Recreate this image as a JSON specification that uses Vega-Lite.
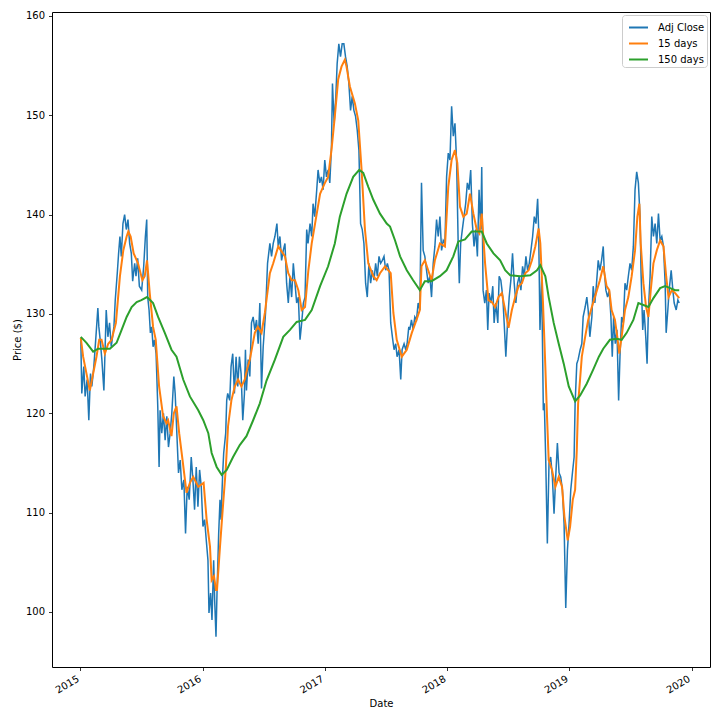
{
  "$schema": "https://vega.github.io/schema/vega-lite/v6.json",
  "width": 658,
  "height": 655,
  "autosize": {"type": "none"},
  "padding": {"left": 52, "top": 12, "right": 10, "bottom": 53},
  "background": "white",
  "config": {
    "font": "DejaVu Sans",
    "view": {"stroke": "#000000", "strokeWidth": 1},
    "axis": {
      "grid": false, "domain": false,
      "tickColor": "#000000", "tickSize": 3.5, "tickWidth": 0.8,
      "labelColor": "#000000", "labelFontSize": 10, "labelFont": "DejaVu Sans",
      "titleFont": "DejaVu Sans", "titleFontSize": 10, "titleFontWeight": "normal", "titleColor": "#000000"
    }
  },
  "datasets": {
    "adj": [
      {"date":"2015-01-02","price":127.6},{"date":"2015-01-05","price":122.0},{"date":"2015-01-11","price":124.7},{"date":"2015-01-15","price":121.7},
      {"date":"2015-01-21","price":123.4},{"date":"2015-01-26","price":119.3},{"date":"2015-01-31","price":124.0},{"date":"2015-02-04","price":122.7},
      {"date":"2015-02-10","price":124.7},{"date":"2015-02-17","price":128.1},{"date":"2015-02-22","price":130.6},{"date":"2015-02-25","price":128.7},
      {"date":"2015-03-01","price":127.4},{"date":"2015-03-06","price":125.4},{"date":"2015-03-12","price":122.3},{"date":"2015-03-19","price":130.4},
      {"date":"2015-03-24","price":127.7},{"date":"2015-03-29","price":129.1},{"date":"2015-04-03","price":126.7},{"date":"2015-04-11","price":128.7},
      {"date":"2015-04-15","price":131.4},{"date":"2015-04-21","price":134.1},{"date":"2015-04-25","price":136.1},{"date":"2015-04-29","price":137.8},
      {"date":"2015-05-03","price":135.8},{"date":"2015-05-08","price":139.1},{"date":"2015-05-13","price":140.0},{"date":"2015-05-18","price":138.5},
      {"date":"2015-05-23","price":139.5},{"date":"2015-05-28","price":137.1},{"date":"2015-06-02","price":136.1},{"date":"2015-06-06","price":133.3},
      {"date":"2015-06-12","price":135.1},{"date":"2015-06-16","price":133.8},{"date":"2015-06-21","price":135.6},{"date":"2015-06-26","price":132.8},
      {"date":"2015-07-03","price":132.4},{"date":"2015-07-09","price":134.8},{"date":"2015-07-14","price":137.8},{"date":"2015-07-18","price":139.5},
      {"date":"2015-07-21","price":131.7},{"date":"2015-07-25","price":130.4},{"date":"2015-07-29","price":128.1},{"date":"2015-08-02","price":128.7},
      {"date":"2015-08-06","price":126.7},{"date":"2015-08-10","price":127.4},{"date":"2015-08-15","price":126.0},{"date":"2015-08-20","price":120.7},
      {"date":"2015-08-24","price":114.6},{"date":"2015-08-27","price":120.3},{"date":"2015-09-01","price":118.0},{"date":"2015-09-06","price":120.0},
      {"date":"2015-09-11","price":117.3},{"date":"2015-09-16","price":119.7},{"date":"2015-09-21","price":116.6},{"date":"2015-09-26","price":118.0},
      {"date":"2015-10-01","price":120.0},{"date":"2015-10-07","price":123.7},{"date":"2015-10-11","price":122.0},{"date":"2015-10-16","price":118.0},
      {"date":"2015-10-21","price":114.0},{"date":"2015-10-26","price":115.3},{"date":"2015-10-31","price":112.3},{"date":"2015-11-06","price":113.3},
      {"date":"2015-11-11","price":107.9},{"date":"2015-11-16","price":112.6},{"date":"2015-11-22","price":111.3},{"date":"2015-11-28","price":115.6},
      {"date":"2015-12-03","price":113.3},{"date":"2015-12-08","price":110.3},{"date":"2015-12-13","price":114.6},{"date":"2015-12-18","price":110.6},
      {"date":"2015-12-23","price":114.3},{"date":"2015-12-28","price":112.6},{"date":"2016-01-02","price":108.6},{"date":"2016-01-07","price":109.3},
      {"date":"2016-01-12","price":107.2},{"date":"2016-01-17","price":105.2},{"date":"2016-01-20","price":99.9},{"date":"2016-01-25","price":101.9},
      {"date":"2016-01-29","price":99.2},{"date":"2016-02-03","price":105.2},{"date":"2016-02-06","price":101.2},{"date":"2016-02-10","price":97.5},
      {"date":"2016-02-13","price":101.9},{"date":"2016-02-18","price":107.9},{"date":"2016-02-22","price":111.3},{"date":"2016-02-25","price":109.3},
      {"date":"2016-03-01","price":114.0},{"date":"2016-03-04","price":116.0},{"date":"2016-03-10","price":118.0},{"date":"2016-03-13","price":121.3},
      {"date":"2016-03-16","price":122.0},{"date":"2016-03-22","price":121.3},{"date":"2016-03-26","price":124.7},{"date":"2016-03-31","price":126.0},
      {"date":"2016-04-05","price":122.0},{"date":"2016-04-10","price":125.7},{"date":"2016-04-15","price":122.7},{"date":"2016-04-20","price":125.7},
      {"date":"2016-04-25","price":124.0},{"date":"2016-04-30","price":119.3},{"date":"2016-05-05","price":122.0},{"date":"2016-05-08","price":126.4},
      {"date":"2016-05-11","price":122.3},{"date":"2016-05-16","price":125.4},{"date":"2016-05-21","price":123.7},{"date":"2016-05-26","price":129.1},
      {"date":"2016-05-31","price":129.7},{"date":"2016-06-05","price":128.4},{"date":"2016-06-10","price":129.4},{"date":"2016-06-15","price":127.0},
      {"date":"2016-06-20","price":131.1},{"date":"2016-06-25","price":122.5},{"date":"2016-06-30","price":126.7},{"date":"2016-07-07","price":130.1},
      {"date":"2016-07-13","price":135.1},{"date":"2016-07-20","price":137.1},{"date":"2016-07-25","price":135.8},{"date":"2016-07-30","price":137.1},
      {"date":"2016-08-04","price":137.8},{"date":"2016-08-10","price":139.1},{"date":"2016-08-14","price":136.8},{"date":"2016-08-19","price":137.8},
      {"date":"2016-08-24","price":135.4},{"date":"2016-08-29","price":136.4},{"date":"2016-09-03","price":137.1},{"date":"2016-09-08","price":133.1},
      {"date":"2016-09-13","price":131.1},{"date":"2016-09-18","price":133.8},{"date":"2016-09-23","price":131.7},{"date":"2016-09-28","price":135.1},
      {"date":"2016-10-03","price":133.1},{"date":"2016-10-08","price":131.1},{"date":"2016-10-13","price":131.7},{"date":"2016-10-18","price":127.4},
      {"date":"2016-10-23","price":129.1},{"date":"2016-10-28","price":131.1},{"date":"2016-11-02","price":131.7},{"date":"2016-11-07","price":138.5},
      {"date":"2016-11-11","price":137.1},{"date":"2016-11-17","price":139.1},{"date":"2016-11-22","price":137.8},{"date":"2016-11-26","price":141.1},
      {"date":"2016-12-01","price":139.8},{"date":"2016-12-07","price":142.5},{"date":"2016-12-11","price":144.5},{"date":"2016-12-16","price":143.2},
      {"date":"2016-12-21","price":143.8},{"date":"2016-12-26","price":142.5},{"date":"2016-12-31","price":145.5},{"date":"2017-01-05","price":143.8},
      {"date":"2017-01-10","price":144.5},{"date":"2017-01-15","price":143.2},{"date":"2017-01-20","price":146.8},{"date":"2017-01-23","price":153.2},
      {"date":"2017-01-28","price":149.2},{"date":"2017-02-02","price":151.9},{"date":"2017-02-06","price":155.2},{"date":"2017-02-11","price":157.2},
      {"date":"2017-02-16","price":155.9},{"date":"2017-02-21","price":157.2},{"date":"2017-02-26","price":157.2},{"date":"2017-03-03","price":155.9},
      {"date":"2017-03-08","price":154.9},{"date":"2017-03-13","price":153.2},{"date":"2017-03-18","price":150.5},{"date":"2017-03-23","price":151.9},
      {"date":"2017-03-28","price":150.5},{"date":"2017-04-02","price":149.9},{"date":"2017-04-07","price":148.5},{"date":"2017-04-12","price":146.5},
      {"date":"2017-04-17","price":139.1},{"date":"2017-04-22","price":138.5},{"date":"2017-04-27","price":137.1},{"date":"2017-05-02","price":133.1},
      {"date":"2017-05-07","price":131.7},{"date":"2017-05-12","price":135.1},{"date":"2017-05-17","price":133.1},{"date":"2017-05-22","price":134.4},
      {"date":"2017-05-27","price":133.4},{"date":"2017-06-01","price":135.1},{"date":"2017-06-06","price":133.8},{"date":"2017-06-11","price":135.8},
      {"date":"2017-06-16","price":135.1},{"date":"2017-06-21","price":135.4},{"date":"2017-06-26","price":135.8},{"date":"2017-07-01","price":134.4},
      {"date":"2017-07-06","price":135.1},{"date":"2017-07-11","price":134.4},{"date":"2017-07-16","price":129.1},{"date":"2017-07-21","price":127.7},
      {"date":"2017-07-26","price":126.4},{"date":"2017-07-31","price":127.0},{"date":"2017-08-04","price":125.7},{"date":"2017-08-10","price":126.4},
      {"date":"2017-08-15","price":123.4},{"date":"2017-08-19","price":126.4},{"date":"2017-08-25","price":127.0},{"date":"2017-08-30","price":126.4},
      {"date":"2017-09-03","price":127.0},{"date":"2017-09-08","price":128.7},{"date":"2017-09-11","price":128.4},{"date":"2017-09-16","price":129.4},
      {"date":"2017-09-21","price":128.4},{"date":"2017-09-26","price":129.7},{"date":"2017-10-01","price":129.4},{"date":"2017-10-06","price":131.1},
      {"date":"2017-10-11","price":130.4},{"date":"2017-10-16","price":143.2},{"date":"2017-10-21","price":136.4},{"date":"2017-10-26","price":135.8},
      {"date":"2017-10-31","price":134.4},{"date":"2017-11-05","price":133.1},{"date":"2017-11-10","price":133.8},{"date":"2017-11-15","price":131.7},
      {"date":"2017-11-20","price":135.1},{"date":"2017-11-25","price":136.8},{"date":"2017-11-30","price":139.5},{"date":"2017-12-05","price":137.8},
      {"date":"2017-12-10","price":139.8},{"date":"2017-12-15","price":136.4},{"date":"2017-12-20","price":137.4},{"date":"2017-12-25","price":137.1},
      {"date":"2017-12-30","price":143.8},{"date":"2018-01-04","price":146.2},{"date":"2018-01-09","price":145.5},{"date":"2018-01-14","price":150.9},
      {"date":"2018-01-19","price":147.9},{"date":"2018-01-24","price":149.2},{"date":"2018-01-29","price":145.2},{"date":"2018-02-03","price":136.4},
      {"date":"2018-02-06","price":133.1},{"date":"2018-02-10","price":137.1},{"date":"2018-02-15","price":138.5},{"date":"2018-02-20","price":139.8},
      {"date":"2018-02-25","price":141.1},{"date":"2018-03-02","price":143.2},{"date":"2018-03-07","price":142.5},{"date":"2018-03-12","price":144.5},
      {"date":"2018-03-17","price":139.1},{"date":"2018-03-22","price":136.8},{"date":"2018-03-27","price":138.5},{"date":"2018-04-01","price":135.8},
      {"date":"2018-04-06","price":142.5},{"date":"2018-04-11","price":138.5},{"date":"2018-04-14","price":144.8},{"date":"2018-04-18","price":132.4},
      {"date":"2018-04-23","price":131.1},{"date":"2018-04-28","price":132.4},{"date":"2018-05-02","price":128.4},{"date":"2018-05-06","price":132.1},
      {"date":"2018-05-12","price":131.1},{"date":"2018-05-17","price":132.8},{"date":"2018-05-21","price":129.1},{"date":"2018-05-26","price":131.1},
      {"date":"2018-06-01","price":129.1},{"date":"2018-06-05","price":133.8},{"date":"2018-06-10","price":133.4},{"date":"2018-06-16","price":131.7},
      {"date":"2018-06-20","price":129.1},{"date":"2018-06-25","price":125.7},{"date":"2018-06-30","price":129.1},{"date":"2018-07-05","price":131.7},
      {"date":"2018-07-10","price":133.4},{"date":"2018-07-15","price":136.1},{"date":"2018-07-20","price":133.1},{"date":"2018-07-25","price":131.1},
      {"date":"2018-07-30","price":133.1},{"date":"2018-08-04","price":133.8},{"date":"2018-08-09","price":132.4},{"date":"2018-08-14","price":134.8},
      {"date":"2018-08-19","price":133.8},{"date":"2018-08-24","price":135.8},{"date":"2018-08-29","price":134.4},{"date":"2018-09-03","price":135.1},
      {"date":"2018-09-08","price":136.4},{"date":"2018-09-13","price":137.8},{"date":"2018-09-18","price":139.8},{"date":"2018-09-23","price":139.1},
      {"date":"2018-09-28","price":141.6},{"date":"2018-10-01","price":138.5},{"date":"2018-10-05","price":128.4},{"date":"2018-10-10","price":133.8},
      {"date":"2018-10-15","price":120.3},{"date":"2018-10-18","price":121.0},{"date":"2018-10-22","price":115.6},{"date":"2018-10-27","price":106.9},
      {"date":"2018-11-01","price":115.0},{"date":"2018-11-06","price":115.6},{"date":"2018-11-11","price":113.6},{"date":"2018-11-16","price":109.9},
      {"date":"2018-11-21","price":113.6},{"date":"2018-11-26","price":117.0},{"date":"2018-12-01","price":114.0},{"date":"2018-12-06","price":113.6},
      {"date":"2018-12-11","price":112.3},{"date":"2018-12-16","price":108.9},{"date":"2018-12-21","price":100.4},{"date":"2018-12-26","price":106.2},
      {"date":"2018-12-31","price":108.9},{"date":"2019-01-05","price":112.3},{"date":"2019-01-10","price":114.0},{"date":"2019-01-15","price":115.6},
      {"date":"2019-01-18","price":121.0},{"date":"2019-01-23","price":125.0},{"date":"2019-01-27","price":125.4},{"date":"2019-02-02","price":126.4},
      {"date":"2019-02-07","price":127.0},{"date":"2019-02-11","price":129.7},{"date":"2019-02-17","price":130.7},{"date":"2019-02-22","price":131.7},
      {"date":"2019-02-26","price":130.4},{"date":"2019-03-03","price":127.7},{"date":"2019-03-09","price":129.7},{"date":"2019-03-13","price":132.8},
      {"date":"2019-03-18","price":131.1},{"date":"2019-03-23","price":133.1},{"date":"2019-03-28","price":135.4},{"date":"2019-04-02","price":134.4},
      {"date":"2019-04-07","price":135.4},{"date":"2019-04-12","price":136.8},{"date":"2019-04-15","price":134.4},{"date":"2019-04-20","price":132.4},
      {"date":"2019-04-25","price":131.7},{"date":"2019-04-30","price":132.4},{"date":"2019-05-05","price":129.7},{"date":"2019-05-09","price":125.7},
      {"date":"2019-05-13","price":129.7},{"date":"2019-05-18","price":127.0},{"date":"2019-05-23","price":128.4},{"date":"2019-05-28","price":121.3},
      {"date":"2019-06-01","price":125.7},{"date":"2019-06-06","price":129.7},{"date":"2019-06-11","price":129.1},{"date":"2019-06-16","price":133.1},
      {"date":"2019-06-21","price":132.4},{"date":"2019-06-26","price":133.8},{"date":"2019-07-01","price":135.1},{"date":"2019-07-06","price":134.4},
      {"date":"2019-07-11","price":136.8},{"date":"2019-07-16","price":142.5},{"date":"2019-07-21","price":144.3},{"date":"2019-07-26","price":143.2},
      {"date":"2019-07-31","price":139.8},{"date":"2019-08-03","price":134.1},{"date":"2019-08-08","price":128.4},{"date":"2019-08-12","price":130.4},
      {"date":"2019-08-17","price":127.7},{"date":"2019-08-21","price":125.0},{"date":"2019-08-25","price":130.4},{"date":"2019-08-30","price":133.8},
      {"date":"2019-09-04","price":139.8},{"date":"2019-09-09","price":137.8},{"date":"2019-09-14","price":139.1},{"date":"2019-09-19","price":137.1},
      {"date":"2019-09-24","price":140.1},{"date":"2019-09-29","price":137.4},{"date":"2019-10-04","price":137.8},{"date":"2019-10-09","price":136.8},
      {"date":"2019-10-14","price":133.1},{"date":"2019-10-17","price":128.1},{"date":"2019-10-22","price":130.4},{"date":"2019-10-26","price":132.4},
      {"date":"2019-11-01","price":134.4},{"date":"2019-11-06","price":132.4},{"date":"2019-11-10","price":131.1},{"date":"2019-11-16","price":130.4},
      {"date":"2019-11-21","price":131.4},{"date":"2019-11-25","price":131.1}
    ],
    "ma15": [
      {"date":"2015-01-02","price":127.6},{"date":"2015-01-09","price":125.7},{"date":"2015-01-29","price":122.3},{"date":"2015-02-08","price":124},
      {"date":"2015-02-18","price":125.7},{"date":"2015-02-26","price":127.4},{"date":"2015-03-05","price":127.4},{"date":"2015-03-15","price":126},
      {"date":"2015-03-25","price":127},{"date":"2015-04-04","price":127.4},{"date":"2015-04-17","price":129.1},{"date":"2015-04-29","price":133.8},
      {"date":"2015-05-09","price":136.4},{"date":"2015-05-19","price":137.8},{"date":"2015-05-24","price":138.3},{"date":"2015-05-31","price":137.8},
      {"date":"2015-06-09","price":136.1},{"date":"2015-06-22","price":135.1},{"date":"2015-07-05","price":133.4},{"date":"2015-07-12","price":133.8},
      {"date":"2015-07-19","price":135.4},{"date":"2015-07-27","price":132.1},{"date":"2015-08-06","price":128.7},{"date":"2015-08-14","price":127.4},
      {"date":"2015-08-24","price":122.7},{"date":"2015-09-05","price":119.7},{"date":"2015-09-15","price":119},{"date":"2015-09-20","price":119.3},
      {"date":"2015-09-30","price":117.7},{"date":"2015-10-07","price":120},{"date":"2015-10-15","price":120.7},{"date":"2015-10-23","price":118},
      {"date":"2015-11-02","price":115.3},{"date":"2015-11-14","price":112},{"date":"2015-11-24","price":113},{"date":"2015-12-04","price":113.6},
      {"date":"2015-12-19","price":112.6},{"date":"2016-01-04","price":113},{"date":"2016-01-13","price":109.3},{"date":"2016-01-23","price":106.6},
      {"date":"2016-01-28","price":103.2},{"date":"2016-02-04","price":103.6},{"date":"2016-02-10","price":102.2},{"date":"2016-02-13","price":102.2},
      {"date":"2016-02-22","price":106.6},{"date":"2016-03-01","price":110.3},{"date":"2016-03-10","price":114.3},{"date":"2016-03-17","price":118.7},
      {"date":"2016-03-27","price":121.3},{"date":"2016-04-06","price":122.7},{"date":"2016-04-16","price":123.4},{"date":"2016-04-26","price":122.7},
      {"date":"2016-05-06","price":123.4},{"date":"2016-05-15","price":124.7},{"date":"2016-05-21","price":125.4},{"date":"2016-06-05","price":128.1},
      {"date":"2016-06-14","price":128.7},{"date":"2016-06-25","price":128.1},{"date":"2016-07-05","price":130.1},{"date":"2016-07-20","price":134.1},
      {"date":"2016-07-30","price":135.1},{"date":"2016-08-14","price":136.8},{"date":"2016-08-24","price":136.3},{"date":"2016-09-03","price":135.8},
      {"date":"2016-09-13","price":134.1},{"date":"2016-09-23","price":133.4},{"date":"2016-10-03","price":133.4},{"date":"2016-10-13","price":132.4},
      {"date":"2016-10-23","price":130.4},{"date":"2016-11-02","price":130.7},{"date":"2016-11-12","price":134.4},{"date":"2016-11-22","price":137.1},
      {"date":"2016-12-02","price":139.1},{"date":"2016-12-17","price":142.1},{"date":"2016-12-30","price":143.1},{"date":"2017-01-10","price":143.8},
      {"date":"2017-01-20","price":146.5},{"date":"2017-01-30","price":149.9},{"date":"2017-02-09","price":153.6},{"date":"2017-02-19","price":154.9},
      {"date":"2017-03-01","price":155.6},{"date":"2017-03-06","price":154.9},{"date":"2017-03-16","price":152.9},{"date":"2017-03-31","price":151.2},
      {"date":"2017-04-10","price":149.5},{"date":"2017-04-20","price":144.5},{"date":"2017-04-30","price":138.5},{"date":"2017-05-10","price":135.1},
      {"date":"2017-05-25","price":133.8},{"date":"2017-06-04","price":133.4},{"date":"2017-06-14","price":134.1},{"date":"2017-06-29","price":134.8},
      {"date":"2017-07-09","price":134.4},{"date":"2017-07-16","price":134.1},{"date":"2017-07-24","price":130.1},{"date":"2017-08-03","price":127.4},
      {"date":"2017-08-18","price":125.7},{"date":"2017-09-02","price":126.4},{"date":"2017-09-17","price":128.1},{"date":"2017-10-01","price":129.4},
      {"date":"2017-10-11","price":130.4},{"date":"2017-10-16","price":134.8},{"date":"2017-10-26","price":135.4},{"date":"2017-11-05","price":134.4},
      {"date":"2017-11-15","price":133.4},{"date":"2017-11-25","price":135.4},{"date":"2017-12-10","price":137.1},{"date":"2017-12-25","price":136.8},
      {"date":"2018-01-04","price":142.8},{"date":"2018-01-14","price":145.5},{"date":"2018-01-24","price":146.5},{"date":"2018-01-31","price":145.2},
      {"date":"2018-02-08","price":140.8},{"date":"2018-02-18","price":139.8},{"date":"2018-02-28","price":140.1},{"date":"2018-03-10","price":142.1},
      {"date":"2018-03-20","price":140.1},{"date":"2018-03-30","price":138.5},{"date":"2018-04-07","price":138.1},{"date":"2018-04-14","price":140.1},
      {"date":"2018-04-24","price":135.1},{"date":"2018-05-04","price":131.4},{"date":"2018-05-14","price":131.2},{"date":"2018-05-24","price":130.7},
      {"date":"2018-06-03","price":131.7},{"date":"2018-06-13","price":132.1},{"date":"2018-06-23","price":130.4},{"date":"2018-07-03","price":128.6},
      {"date":"2018-07-13","price":130.4},{"date":"2018-07-23","price":131.7},{"date":"2018-08-02","price":132.8},{"date":"2018-08-12","price":133.1},
      {"date":"2018-08-22","price":134.1},{"date":"2018-09-01","price":134.4},{"date":"2018-09-11","price":135.4},{"date":"2018-09-21","price":136.8},
      {"date":"2018-10-01","price":138.6},{"date":"2018-10-06","price":137.1},{"date":"2018-10-14","price":131.1},{"date":"2018-10-21","price":124.7},
      {"date":"2018-10-26","price":119.7},{"date":"2018-10-31","price":115.3},{"date":"2018-11-10","price":114.3},{"date":"2018-11-20","price":112.6},
      {"date":"2018-11-30","price":113.6},{"date":"2018-12-10","price":112.6},{"date":"2018-12-17","price":109.6},{"date":"2018-12-27","price":107.2},
      {"date":"2019-01-03","price":108.6},{"date":"2019-01-11","price":111.3},{"date":"2019-01-18","price":112.3},{"date":"2019-01-23","price":116.3},
      {"date":"2019-01-27","price":121},{"date":"2019-02-02","price":123.5},{"date":"2019-02-07","price":125.7},{"date":"2019-02-17","price":127.7},
      {"date":"2019-02-26","price":129.4},{"date":"2019-03-09","price":130.7},{"date":"2019-03-18","price":131.7},{"date":"2019-04-02","price":133.4},
      {"date":"2019-04-12","price":134.8},{"date":"2019-04-22","price":132.8},{"date":"2019-04-30","price":132.4},{"date":"2019-05-07","price":130.4},
      {"date":"2019-05-17","price":129.4},{"date":"2019-05-24","price":127.7},{"date":"2019-05-30","price":126},{"date":"2019-06-06","price":127.7},
      {"date":"2019-06-16","price":130.4},{"date":"2019-06-26","price":131.7},{"date":"2019-07-06","price":133.8},{"date":"2019-07-16","price":136.4},
      {"date":"2019-07-23","price":139.8},{"date":"2019-07-29","price":141.1},{"date":"2019-08-02","price":137.1},{"date":"2019-08-10","price":133.1},
      {"date":"2019-08-18","price":130.7},{"date":"2019-08-25","price":129.7},{"date":"2019-09-01","price":132.4},{"date":"2019-09-09","price":135.1},
      {"date":"2019-09-19","price":136.4},{"date":"2019-09-29","price":137.4},{"date":"2019-10-09","price":136.8},{"date":"2019-10-17","price":133.8},
      {"date":"2019-10-24","price":131.7},{"date":"2019-11-03","price":132.4},{"date":"2019-11-13","price":132.1},{"date":"2019-11-25","price":131.6}
    ],
    "ma150": [
      {"date":"2015-01-02","price":127.7},{"date":"2015-01-19","price":127.1},{"date":"2015-02-08","price":126.2},{"date":"2015-02-23","price":126.5},
      {"date":"2015-03-10","price":126.5},{"date":"2015-03-30","price":126.5},{"date":"2015-04-19","price":127.1},{"date":"2015-05-04","price":128.4},
      {"date":"2015-05-19","price":129.7},{"date":"2015-06-03","price":130.7},{"date":"2015-06-18","price":131.2},{"date":"2015-07-02","price":131.4},
      {"date":"2015-07-19","price":131.7},{"date":"2015-08-06","price":131.1},{"date":"2015-08-21","price":129.7},{"date":"2015-09-10","price":128.1},
      {"date":"2015-09-30","price":126.4},{"date":"2015-10-15","price":125.7},{"date":"2015-11-04","price":123.4},{"date":"2015-11-24","price":121.7},
      {"date":"2015-12-19","price":120.3},{"date":"2016-01-03","price":119.3},{"date":"2016-01-18","price":118},{"date":"2016-01-28","price":116},
      {"date":"2016-02-12","price":114.6},{"date":"2016-02-27","price":113.8},{"date":"2016-03-13","price":114.3},{"date":"2016-04-01","price":115.6},
      {"date":"2016-04-21","price":116.8},{"date":"2016-05-11","price":117.7},{"date":"2016-05-31","price":119.3},{"date":"2016-06-20","price":121},
      {"date":"2016-07-10","price":123.3},{"date":"2016-08-04","price":125.4},{"date":"2016-08-29","price":127.7},{"date":"2016-09-18","price":128.4},
      {"date":"2016-10-08","price":129.2},{"date":"2016-11-02","price":129.4},{"date":"2016-11-22","price":130.4},{"date":"2016-12-17","price":132.8},
      {"date":"2017-01-10","price":134.8},{"date":"2017-01-30","price":137.1},{"date":"2017-02-14","price":139.8},{"date":"2017-03-06","price":142.1},
      {"date":"2017-03-26","price":143.8},{"date":"2017-04-13","price":144.5},{"date":"2017-04-25","price":144.2},{"date":"2017-05-10","price":142.8},
      {"date":"2017-05-25","price":141.5},{"date":"2017-06-14","price":140.1},{"date":"2017-07-04","price":139.1},{"date":"2017-07-14","price":138.8},
      {"date":"2017-07-29","price":137.4},{"date":"2017-08-13","price":135.8},{"date":"2017-09-02","price":134.4},{"date":"2017-09-21","price":133.4},
      {"date":"2017-10-11","price":132.4},{"date":"2017-10-26","price":133.3},{"date":"2017-11-15","price":133.3},{"date":"2017-12-10","price":133.8},
      {"date":"2017-12-30","price":134.4},{"date":"2018-01-19","price":135.8},{"date":"2018-02-03","price":137.3},{"date":"2018-02-23","price":137.5},
      {"date":"2018-03-15","price":138.3},{"date":"2018-03-30","price":138.3},{"date":"2018-04-14","price":138.3},{"date":"2018-04-29","price":137.1},
      {"date":"2018-05-19","price":136.1},{"date":"2018-06-08","price":135.4},{"date":"2018-06-23","price":134.4},{"date":"2018-07-08","price":133.9},
      {"date":"2018-08-07","price":133.8},{"date":"2018-09-06","price":133.9},{"date":"2018-09-26","price":134.4},{"date":"2018-10-06","price":134.9},
      {"date":"2018-10-21","price":133.8},{"date":"2018-10-31","price":131.7},{"date":"2018-11-15","price":129.1},{"date":"2018-11-30","price":127},
      {"date":"2018-12-15","price":125},{"date":"2018-12-30","price":122.7},{"date":"2019-01-18","price":121.2},{"date":"2019-02-02","price":121.8},
      {"date":"2019-02-22","price":123},{"date":"2019-03-13","price":124.4},{"date":"2019-03-30","price":125.7},{"date":"2019-04-12","price":126.5},
      {"date":"2019-05-02","price":127.4},{"date":"2019-05-22","price":127.5},{"date":"2019-06-06","price":127.4},{"date":"2019-06-21","price":128.1},
      {"date":"2019-07-11","price":129.4},{"date":"2019-07-26","price":131.1},{"date":"2019-08-10","price":130.9},{"date":"2019-08-25","price":130.7},
      {"date":"2019-09-09","price":131.6},{"date":"2019-09-29","price":132.6},{"date":"2019-10-14","price":132.8},{"date":"2019-10-29","price":132.6},
      {"date":"2019-11-13","price":132.4},{"date":"2019-11-25","price":132.4}
    ]
  },
  "encoding": {
    "x": {
      "field": "date", "type": "temporal",
      "scale": {"type": "utc", "domain": [{"year": 2014, "month": 10, "date": 8, "utc": true}, {"year": 2020, "month": 2, "date": 25, "utc": true}]},
      "axis": {
        "title": "Date", "format": "%Y", "labelAngle": -30, "labelAlign": "right", "labelBaseline": "top",
        "labelOffset": -5, "labelPadding": 3, "titlePadding": 4,
        "values": [
          {"year": 2015, "month": 1, "date": 1, "utc": true}, {"year": 2016, "month": 1, "date": 1, "utc": true},
          {"year": 2017, "month": 1, "date": 1, "utc": true}, {"year": 2018, "month": 1, "date": 1, "utc": true},
          {"year": 2019, "month": 1, "date": 1, "utc": true}, {"year": 2020, "month": 1, "date": 1, "utc": true}
        ]
      }
    },
    "y": {
      "field": "price", "type": "quantitative",
      "scale": {"domain": [94.46, 160.4], "nice": false, "zero": false},
      "axis": {"title": "Price ($)", "values": [100, 110, 120, 130, 140, 150, 160], "labelPadding": 4, "titlePadding": 3}
    }
  },
  "layer": [
    {
      "data": {"name": "adj"},
      "mark": {"type": "line", "strokeWidth": 1.5, "clip": true},
      "encoding": {
        "color": {
          "datum": "Adj Close", "type": "nominal",
          "scale": {"domain": ["Adj Close", "15 days", "150 days"], "range": ["#1f77b4", "#ff7f0e", "#2ca02c"]},
          "legend": {
            "title": null, "orient": "top-right", "offset": 3, "padding": 2,
            "strokeColor": "#cccccc", "fillColor": "#ffffff", "cornerRadius": 3,
            "symbolType": "stroke", "symbolSize": 361, "symbolStrokeWidth": 2, "symbolOffset": 4,
            "labelFontSize": 10, "labelColor": "#000000", "labelFont": "DejaVu Sans", "labelOffset": 9, "rowPadding": -4
          }
        }
      }
    },
    {
      "data": {"name": "ma15"},
      "mark": {"type": "line", "strokeWidth": 2, "clip": true},
      "encoding": {"color": {"datum": "15 days", "type": "nominal"}}
    },
    {
      "data": {"name": "ma150"},
      "mark": {"type": "line", "strokeWidth": 2, "clip": true},
      "encoding": {"color": {"datum": "150 days", "type": "nominal"}}
    }
  ]
}
